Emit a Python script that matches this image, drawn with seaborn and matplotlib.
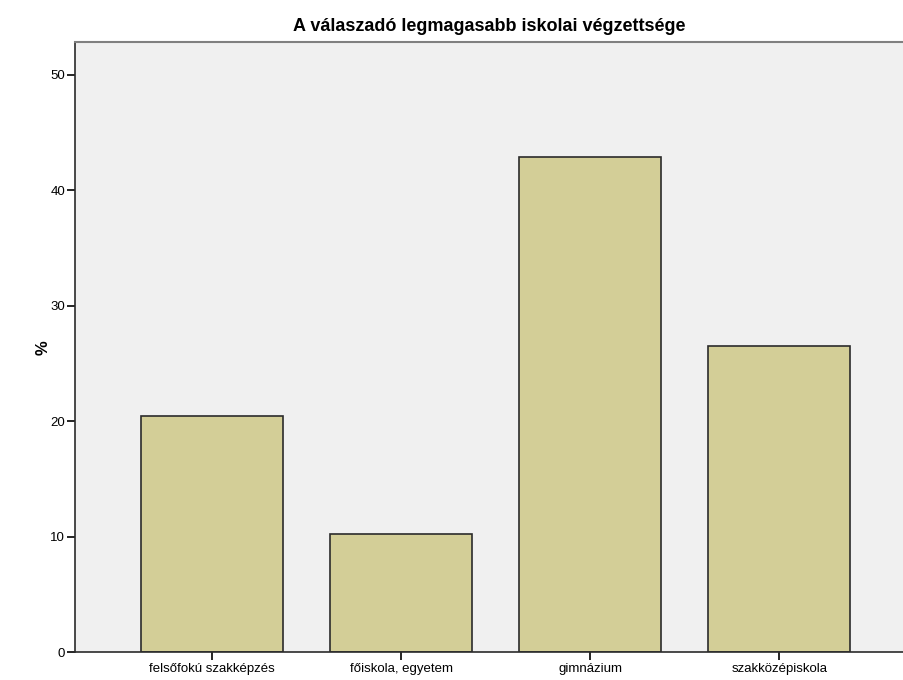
import matplotlib
matplotlib.use('Agg')
import matplotlib.pyplot as plt
import seaborn as sns
import pandas as pd

categories = ['felsőfokú szakképzés', 'főiskola, egyetem', 'gimnázium', 'szakközépiskola']
percent = [20.4, 10.2, 42.9, 26.5]

df = pd.DataFrame({'Vegzettseg': categories, 'Szazalek': percent})

sns.set_style('white')
plt.rcParams['font.family'] = ['Liberation Sans', 'DejaVu Sans']
plt.rcParams['text.color'] = 'black'
plt.rcParams['axes.labelcolor'] = 'black'
plt.rcParams['xtick.color'] = 'black'
plt.rcParams['ytick.color'] = 'black'

fig = plt.figure(figsize=(9.04, 6.8), dpi=100)
ax = fig.add_axes([0.083, 0.041, 0.917, 0.897])
ax.set_facecolor('#F0F0F0')

sns.barplot(
    data=df,
    x='Vegzettseg',
    y='Szazalek',
    color='#D3CE97',
    saturation=1,
    width=0.75,
    edgecolor='#2b2b2b',
    linewidth=1.2,
    ax=ax
)

ax.set_xlim(-0.725, 3.66)
ax.set_ylim(0, 52.8)
ax.set_yticks([0, 10, 20, 30, 40, 50])

ax.set_title('A válaszadó legmagasabb iskolai végzettsége', fontsize=13, fontweight='bold', pad=8)
ax.set_xlabel('')
ax.set_ylabel('%', fontsize=12, fontweight='bold', labelpad=0)

ax.tick_params(axis='both', labelsize=9.5, length=6, width=1.2, direction='out',
               bottom=True, left=True, colors='black')
ax.tick_params(axis='x', pad=2)
ax.tick_params(axis='y', pad=1)

for side in ['left', 'bottom']:
    ax.spines[side].set_color('#2b2b2b')
    ax.spines[side].set_linewidth(1.2)
ax.spines['top'].set_color('#808080')
ax.spines['top'].set_linewidth(1.5)
ax.spines['right'].set_visible(False)

fig.savefig('out.png', dpi=100)
